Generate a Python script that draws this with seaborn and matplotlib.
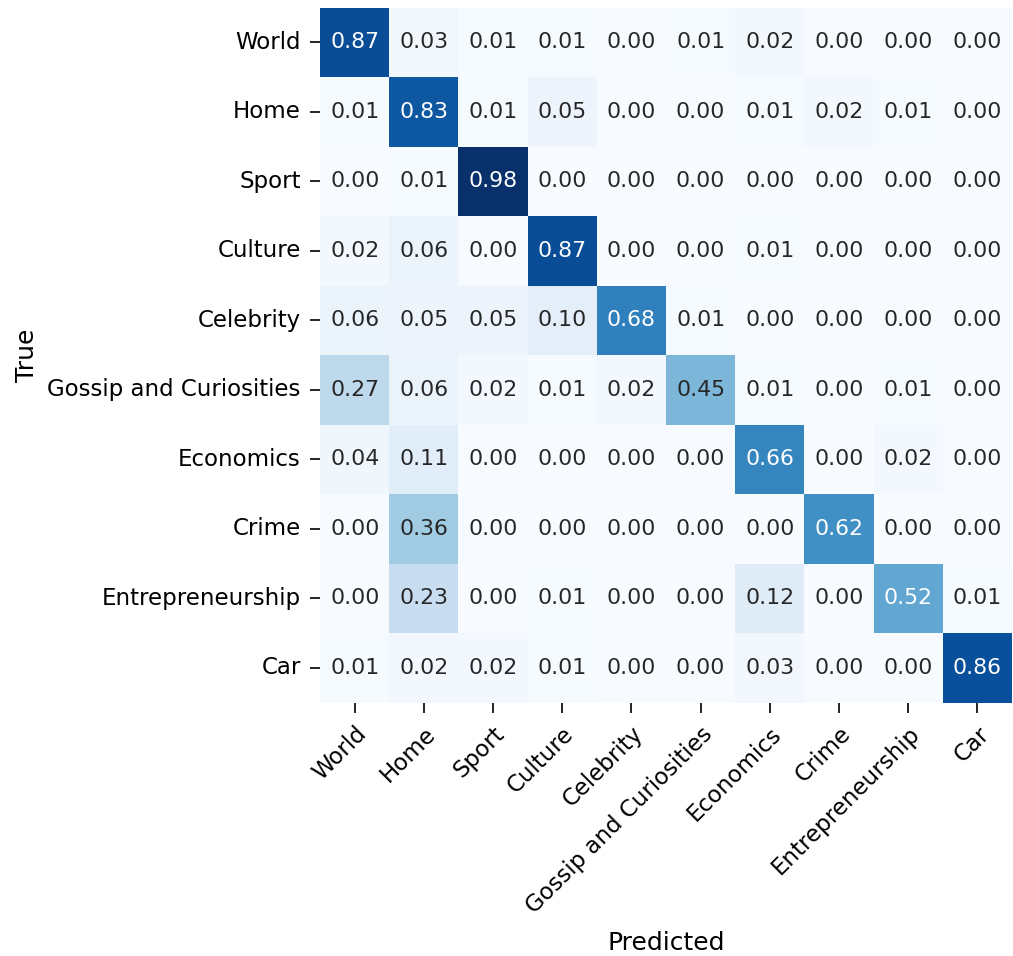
import numpy as np
import pandas as pd
import seaborn as sns
import matplotlib
matplotlib.use("Agg")
import matplotlib.pyplot as plt

categories = ["World", "Home", "Sport", "Culture", "Celebrity",
              "Gossip and Curiosities", "Economics", "Crime",
              "Entrepreneurship", "Car"]

row_world = [0.87, 0.03, 0.01, 0.01, 0.00, 0.01, 0.02, 0.00, 0.00, 0.00]
row_home = [0.01, 0.83, 0.01, 0.05, 0.00, 0.00, 0.01, 0.02, 0.01, 0.00]
row_sport = [0.00, 0.01, 0.98, 0.00, 0.00, 0.00, 0.00, 0.00, 0.00, 0.00]
row_culture = [0.02, 0.06, 0.00, 0.87, 0.00, 0.00, 0.01, 0.00, 0.00, 0.00]
row_celebrity = [0.06, 0.05, 0.05, 0.10, 0.68, 0.01, 0.00, 0.00, 0.00, 0.00]
row_gossip = [0.27, 0.06, 0.02, 0.01, 0.02, 0.45, 0.01, 0.00, 0.01, 0.00]
row_economics = [0.04, 0.11, 0.00, 0.00, 0.00, 0.00, 0.66, 0.00, 0.02, 0.00]
row_crime = [0.00, 0.36, 0.00, 0.00, 0.00, 0.00, 0.00, 0.62, 0.00, 0.00]
row_entre = [0.00, 0.23, 0.00, 0.01, 0.00, 0.00, 0.12, 0.00, 0.52, 0.01]
row_car = [0.01, 0.02, 0.02, 0.01, 0.00, 0.00, 0.03, 0.00, 0.00, 0.86]

cm = pd.DataFrame(
    [row_world, row_home, row_sport, row_culture, row_celebrity,
     row_gossip, row_economics, row_crime, row_entre, row_car],
    index=categories, columns=categories)

fig, ax = plt.subplots(figsize=(10.13, 9.56), dpi=100)
fig.subplots_adjust(left=0.316, right=0.999, top=0.992, bottom=0.265)

sns.heatmap(cm, annot=True, fmt=".2f", cmap="Blues", cbar=False,
            annot_kws={"size": 15.8}, ax=ax)

ax.set_xticklabels(categories, rotation=45, ha="right",
                   rotation_mode="anchor", fontsize=16.5)
ax.set_yticklabels(categories, rotation=0, fontsize=16.5)
ax.tick_params(axis="both", length=7, width=1.2, pad=7)
ax.set_xlabel("Predicted", fontsize=18, labelpad=10)
ax.set_ylabel("True", fontsize=18, labelpad=6)

fig.savefig("out.png", dpi=100)
